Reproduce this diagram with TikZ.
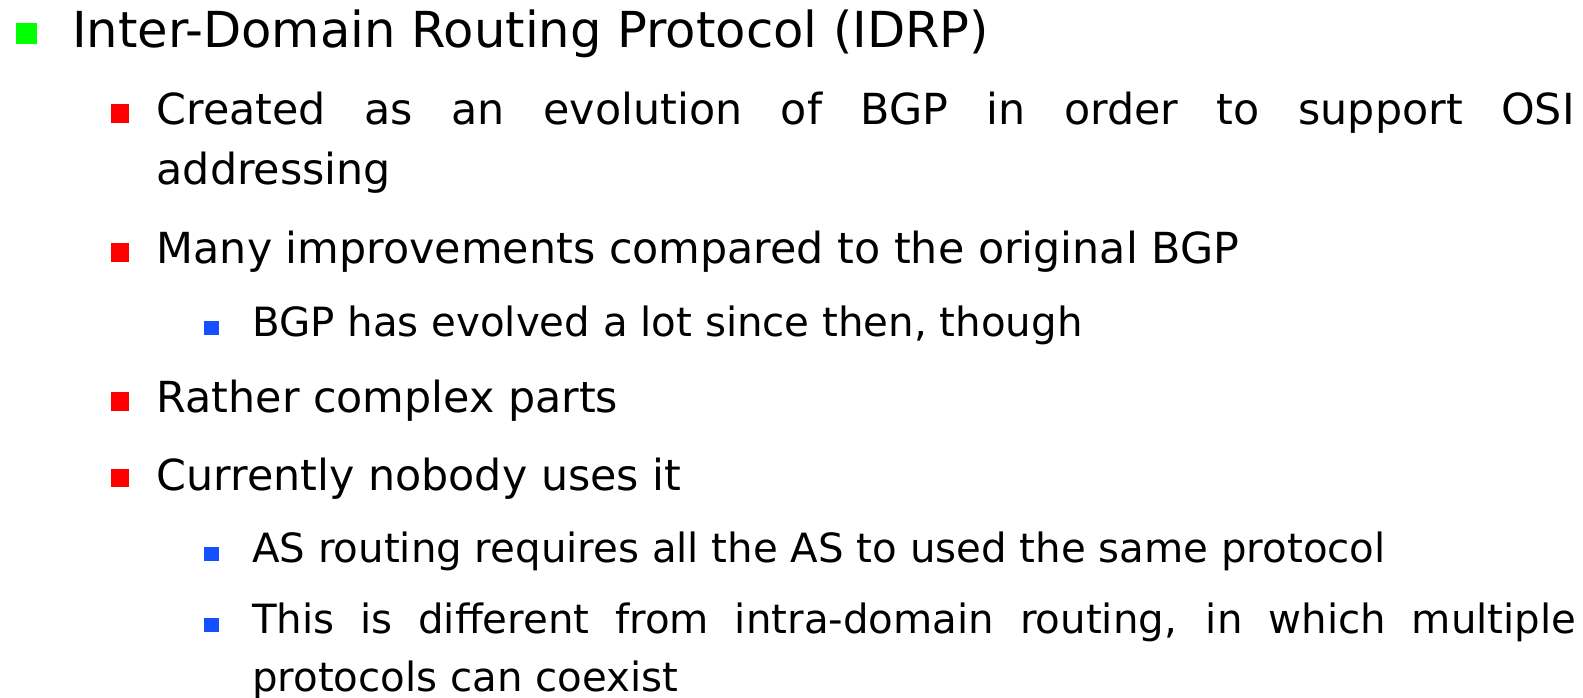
\documentclass[tikz,border=0pt]{standalone}
\usepackage{fontspec}
\setmainfont{DejaVu Sans}
\usetikzlibrary{positioning}

\definecolor{bulgreen}{RGB}{0,255,0}
\definecolor{bulred}{RGB}{255,0,0}
\definecolor{bulblue}{RGB}{20,80,255}

\tikzset{
  lvlone/.style={anchor=base west, inner sep=0pt, font=\fontsize{49.6}{60}\selectfont},
  lvltwo/.style={anchor=base west, inner sep=0pt, font=\fontsize{42.8}{60}\selectfont},
  lvlthree/.style={anchor=base west, inner sep=0pt, font=\fontsize{40.3}{58}\selectfont},
  bulone/.style={rectangle, fill=bulgreen, inner sep=0pt, minimum size=21pt},
  bultwo/.style={rectangle, fill=bulred, inner sep=0pt, minimum size=18.5pt},
  bulthree/.style={rectangle, fill=bulblue, inner sep=0pt, minimum size=14.5pt}
}

\begin{document}
\begin{tikzpicture}[x=1pt, y=1pt]

\useasboundingbox (0,0) rectangle (1583,698);

% Title
\node[bulone] (b1) at (26.5,664.5) {};
\node[lvlone] (t1) at (72,650) {Inter-Domain Routing Protocol (IDRP)};

% Created
\node[bultwo] (b2) at (120,584.5) {};
\node[lvltwo, text width=1418pt, align=justify] (t2) at (156.5,573)
  {Created as an evolution of BGP in order to support OSI\linebreak addressing};

% Many improvements
\node[bultwo] (b3) at (120,445.5) {};
\node[lvltwo] (t3) at (156.5,434) {Many improvements compared to the original BGP};

\node[bulthree] (b4) at (211.5,370) {};
\node[lvlthree] (t4) at (252,361) {BGP has evolved a lot since then, though};

% Rather complex
\node[bultwo] (b5) at (120,296.5) {};
\node[lvltwo] (t5) at (156.5,285) {Rather complex parts};

% Currently nobody
\node[bultwo] (b6) at (120,220) {};
\node[lvltwo] (t6) at (156.5,207) {Currently nobody uses it};

\node[bulthree] (b7) at (211.5,144) {};
\node[lvlthree] (t7) at (252,135) {AS routing requires all the AS to used the same protocol};

\node[bulthree] (b8) at (211.5,73) {};
\node[lvlthree, text width=1324pt, align=justify] (t8) at (252,64)
  {This is different from intra-domain routing, in which multiple\linebreak protocols can coexist};

\end{tikzpicture}
\end{document}
